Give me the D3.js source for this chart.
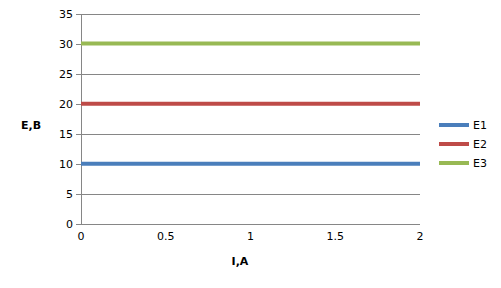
<!DOCTYPE html>
<html>
<head>
<meta charset="utf-8">
<script src="https://cdn.jsdelivr.net/npm/d3@7"></script>
<style>
  body { margin: 0; background: #fff; }
  text { font-family: "DejaVu Sans", sans-serif; font-size: 11px; fill: #000; }
</style>
</head>
<body>
<div id="chart"></div>
<script>
// данные графика
const currentI = [0, 0.5, 1, 1.5, 2];
const seriesNames = ["E1", "E2", "E3"];
const e1 = [10, 10, 10, 10, 10];
const e2 = [20, 20, 20, 20, 20];
const e3 = [30, 30, 30, 30, 30];
const colors = ["#4a7ebb", "#be4b48", "#98b954"];
const xTicks = [0, 0.5, 1, 1.5, 2];
const yTicks = [0, 5, 10, 15, 20, 25, 30, 35];

const W = 501, H = 288;
const margin = { top: 13.5, right: 81, bottom: 64, left: 81 };

const svg = d3.select("#chart").append("svg")
    .attr("width", W)
    .attr("height", H);

const x = d3.scaleLinear().domain([0, 2]).range([margin.left, W - margin.right]);
const y = d3.scaleLinear().domain([0, 35]).range([H - margin.bottom, margin.top]);

// сетка
svg.append("g")
    .selectAll("line")
    .data(yTicks)
    .enter().append("line")
    .attr("x1", margin.left - 5)
    .attr("x2", x(2))
    .attr("y1", d => Math.round(y(d)) + 0.5)
    .attr("y2", d => Math.round(y(d)) + 0.5)
    .attr("stroke", "#868686")
    .attr("stroke-width", 1);

// ось Y
svg.append("line")
    .attr("x1", margin.left + 0.5).attr("x2", margin.left + 0.5)
    .attr("y1", Math.round(y(35)) + 0.5).attr("y2", Math.round(y(0)) + 0.5)
    .attr("stroke", "#868686");

svg.append("g")
    .selectAll("text")
    .data(yTicks)
    .enter().append("text")
    .attr("x", margin.left - 8)
    .attr("y", d => y(d) + 4)
    .attr("text-anchor", "end")
    .text(d => d);

svg.append("g")
    .selectAll("text")
    .data(xTicks)
    .enter().append("text")
    .attr("x", d => x(d))
    .attr("y", y(0) + 16)
    .attr("text-anchor", "middle")
    .text(d => d);

// линии серий
const allSeries = [e1, e2, e3];
const line = d3.line()
    .x((d, i) => x(currentI[i]))
    .y(d => y(d));

allSeries.forEach((vals, k) => {
    svg.append("path")
        .datum(vals)
        .attr("d", line)
        .attr("fill", "none")
        .attr("stroke", colors[k])
        .attr("stroke-width", 4);
});

// подписи осей
svg.append("text")
    .attr("x", 31).attr("y", 129)
    .attr("text-anchor", "middle")
    .style("font-weight", "bold")
    .text("E,B");

svg.append("text")
    .attr("x", 240).attr("y", 265)
    .attr("text-anchor", "middle")
    .style("font-weight", "bold")
    .text("I,A");

// легенда
const legend = svg.append("g")
    .selectAll("g")
    .data(seriesNames)
    .enter().append("g")
    .attr("transform", (d, i) => `translate(439,${125 + i * 19})`);

legend.append("line")
    .attr("x1", 0).attr("x2", 30)
    .attr("y1", 0).attr("y2", 0)
    .attr("stroke", (d, i) => colors[i])
    .attr("stroke-width", 4);

legend.append("text")
    .attr("x", 34)
    .attr("y", 4)
    .text(d => d);
</script>
</body>
</html>
